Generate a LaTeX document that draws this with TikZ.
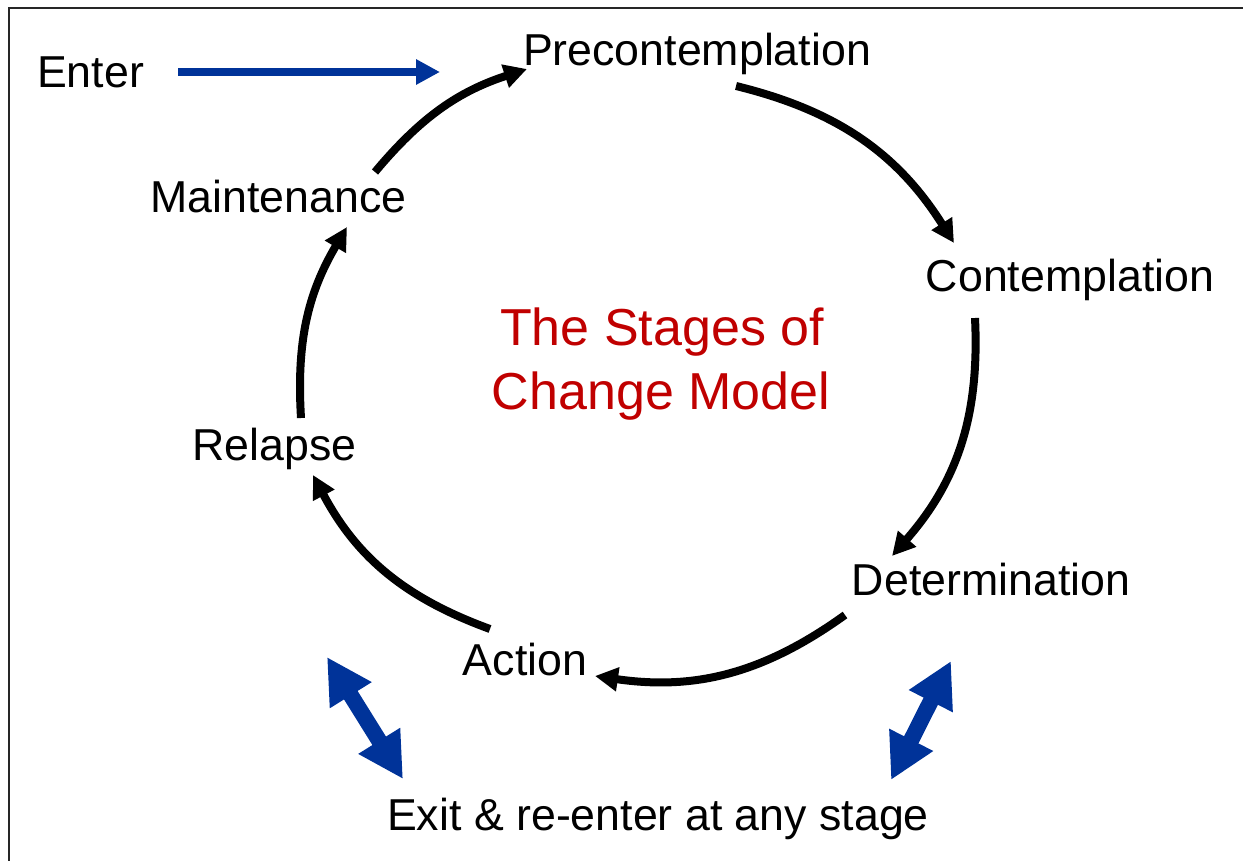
\documentclass[tikz,border=0pt]{standalone}
\usepackage{fontspec}
\setmainfont{Liberation Sans}
\usetikzlibrary{arrows.meta}
\definecolor{arrblue}{RGB}{0,51,153}
\definecolor{titlered}{RGB}{192,0,0}
\begin{document}
\begin{tikzpicture}[x=1pt,y=-1pt,
  lbl/.style={inner sep=0pt, anchor=base, font=\fontsize{44.7}{50}\selectfont},
  ttl/.style={inner sep=0pt, anchor=base, text=titlered, font=\fontsize{52}{60}\selectfont},
  cyc/.style={line width=8pt, -{Triangle[length=23pt,width=23pt]}},
  bidir/.style={arrblue, line width=16pt, {Triangle[length=45pt,width=46pt]}-{Triangle[length=45pt,width=46pt]}},
  enterarrow/.style={arrblue, line width=8pt, -{Triangle[length=24pt,width=24pt]}}]
\useasboundingbox (0,0) rectangle (1243,861);
\draw[line width=2.5pt, black!85] (9,875) -- (9,8) -- (1260,8);
% labels
\node[lbl] (enter) at (90.5,88) {Enter};
\node[lbl] (pre) at (697,66) {Precontemplation};
\node[lbl] (main) at (278.5,213) {Maintenance};
\node[lbl] (cont) at (1070,291) {Contemplation};
\node[ttl] (t1) at (662,345) {The Stages of};
\node[ttl] (t2) at (661,409) {Change Model};
\node[lbl] (rel) at (274.5,460) {Relapse};
\node[lbl] (det) at (991,595) {Determination};
\node[lbl] (act) at (525,675) {Action};
\node[lbl] (exit) at (658,830) {Exit \& re-enter at any stage};
% connector end points
\coordinate (e1) at (178,72);
\coordinate (e2) at (440,72);
\coordinate (a1) at (375,172);
\coordinate (a2) at (527,69);
\coordinate (b1) at (736,86);
\coordinate (b2) at (954,243);
\coordinate (c1) at (975,318);
\coordinate (c2) at (892,556);
\coordinate (d1) at (845,615);
\coordinate (d2) at (595,676);
\coordinate (f1) at (490,629);
\coordinate (f2) at (313,475);
\coordinate (g1) at (301,418);
\coordinate (g2) at (347,227);
\coordinate (l1) at (327,657);
\coordinate (l2) at (403,779);
\coordinate (r1) at (951,661);
\coordinate (r2) at (891,780);
% connectors
\draw[enterarrow] (e1) -- (e2);
\draw[cyc] (a1) to[bend left=16] (a2);
\draw[cyc] (b1) to[bend left=22] (b2);
\draw[cyc] (c1) to[bend left=22] (c2);
\draw[cyc] (d1) to[bend left=22] (d2);
\draw[cyc] (f1) to[bend left=21] (f2);
\draw[cyc] (g1) to[bend left=17] (g2);
\draw[bidir] (l1) -- (l2);
\draw[bidir] (r1) -- (r2);
\end{tikzpicture}
\end{document}
